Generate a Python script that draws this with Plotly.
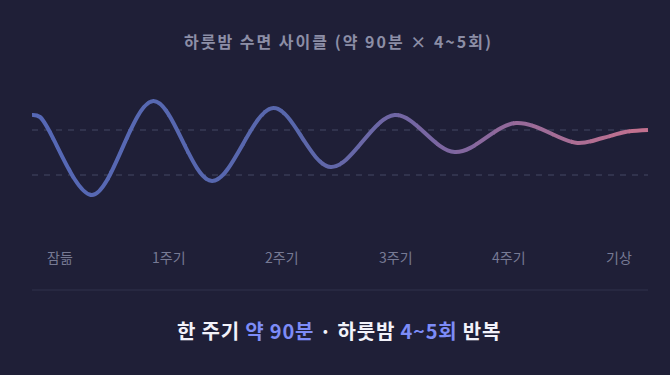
import plotly.graph_objects as go

# ---------------- data ----------------
minutes = [0, 6, 45, 91, 135, 181, 224, 272, 317, 363, 409, 428, 445, 462]  # time (min)
depth = [105, 103, 25, 119, 39, 112, 53, 105, 68, 97, 77, 82, 88, 90]       # relative level
guide_levels = [90, 45]                                                      # dashed levels
stage_labels = ["잠듦", "1주기", "2주기", "3주기", "4주기", "기상"]
title_text = "하룻밤 수면 사이클 (약 90분 × 4~5회)"
footer_parts = [("한 주기 ", False), ("약 90분", True), (" · 하룻밤 ", False),
                ("4~5회", True), (" 반복", False)]

# ---------------- layout constants ----------------
W, H = 670, 375
BG = "#1f1f37"
FONT = "Noto Sans CJK KR"
PLOT_L, PLOT_R = 32, 648
PLOT_T, PLOT_B = 80, 220
Y_RANGE = [0, 140]
X_RANGE = [minutes[0], minutes[-1]]
LABEL_X_PX = [60, 169, 282, 396, 509, 619]
LABEL_Y_PX = 257
SEP_Y_PX = 290
N_SLICES = 32

GRAD = [(0.0, (86, 104, 182)), (0.42, (88, 103, 172)), (0.68, (126, 102, 160)),
        (1.0, (198, 114, 142))]


def px_x(p):
    return p / W


def px_y(p):
    return 1 - p / H


def grad_color(t):
    for (t0, c0), (t1, c1) in zip(GRAD[:-1], GRAD[1:]):
        if t <= t1:
            f = (t - t0) / (t1 - t0)
            c = [round(a + (b - a) * f) for a, b in zip(c0, c1)]
            return "rgb(%d,%d,%d)" % tuple(c)
    return "rgb(%d,%d,%d)" % GRAD[-1][1]


fig = go.Figure()
layout = dict(
    width=W, height=H, margin=dict(l=0, r=0, t=0, b=0),
    paper_bgcolor=BG, plot_bgcolor="rgba(0,0,0,0)", showlegend=False,
    yaxis=dict(domain=[px_y(PLOT_B), px_y(PLOT_T)], range=Y_RANGE, visible=False,
               fixedrange=True),
)

span_px = PLOT_R - PLOT_L
val_per_px = (X_RANGE[1] - X_RANGE[0]) / span_px
n = len(minutes)
for i in range(N_SLICES):
    a_px = PLOT_L + span_px * i / N_SLICES
    b_px = PLOT_L + span_px * (i + 1) / N_SLICES + 1.0
    a_v = X_RANGE[0] + (a_px - PLOT_L) * val_per_px
    b_v = X_RANGE[0] + (b_px - PLOT_L) * val_per_px
    k0 = max(k for k in range(n) if minutes[k] <= a_v)
    ks = [k for k in range(n) if minutes[k] >= b_v]
    k1 = min(ks) if ks else n - 1
    lo, hi = max(0, k0 - 1), min(n - 1, k1 + 1)
    name = "" if i == 0 else str(i + 1)
    layout["xaxis" + name] = dict(domain=[px_x(a_px), min(1, px_x(b_px))], range=[a_v, b_v],
                                  visible=False, anchor="y", fixedrange=True)
    t = (i + 0.5) / N_SLICES
    fig.add_trace(go.Scatter(
        x=minutes[lo:hi + 1], y=depth[lo:hi + 1], mode="lines",
        xaxis="x" + name, yaxis="y", hoverinfo="skip",
        line=dict(color=grad_color(t), width=4, shape="spline", smoothing=1.0, simplify=False),
    ))

shapes = []
for lv in guide_levels:
    shapes.append(dict(type="line", xref="paper", yref="y", x0=px_x(PLOT_L), x1=px_x(PLOT_R),
                       y0=lv, y1=lv, layer="below",
                       line=dict(color="#393b56", width=1.5, dash="6px,6px")))
shapes.append(dict(type="line", xref="paper", yref="paper", x0=px_x(PLOT_L), x1=px_x(PLOT_R),
                   y0=px_y(SEP_Y_PX), y1=px_y(SEP_Y_PX), line=dict(color="#31324c", width=1)))

annotations = []
annotations.append(dict(
    xref="paper", yref="paper", x=px_x(338), y=px_y(41), showarrow=False,
    xanchor="center", yanchor="middle",
    text='<span style="letter-spacing:2px">%s</span>' % title_text,
    font=dict(family=FONT, size=16, color="#8c8ea6", weight="bold"),
))
for lab, xp in zip(stage_labels, LABEL_X_PX):
    annotations.append(dict(
        xref="paper", yref="paper", x=px_x(xp), y=px_y(LABEL_Y_PX), showarrow=False,
        xanchor="center", yanchor="middle", text=lab,
        font=dict(family=FONT, size=14, color="#777a94"),
    ))
footer = "".join(
    '<span style="color:%s;letter-spacing:0.8px">%s</span>' % ("#7d8cf7" if hi else "#f2f2fa", txt)
    for txt, hi in footer_parts)
annotations.append(dict(
    xref="paper", yref="paper", x=px_x(339), y=px_y(330), showarrow=False,
    xanchor="center", yanchor="middle", text=footer,
    font=dict(family=FONT, size=20, color="#f2f2fa", weight="bold"),
))

layout["shapes"] = shapes
layout["annotations"] = annotations
fig.update_layout(**layout)
fig.write_html("out.html")
